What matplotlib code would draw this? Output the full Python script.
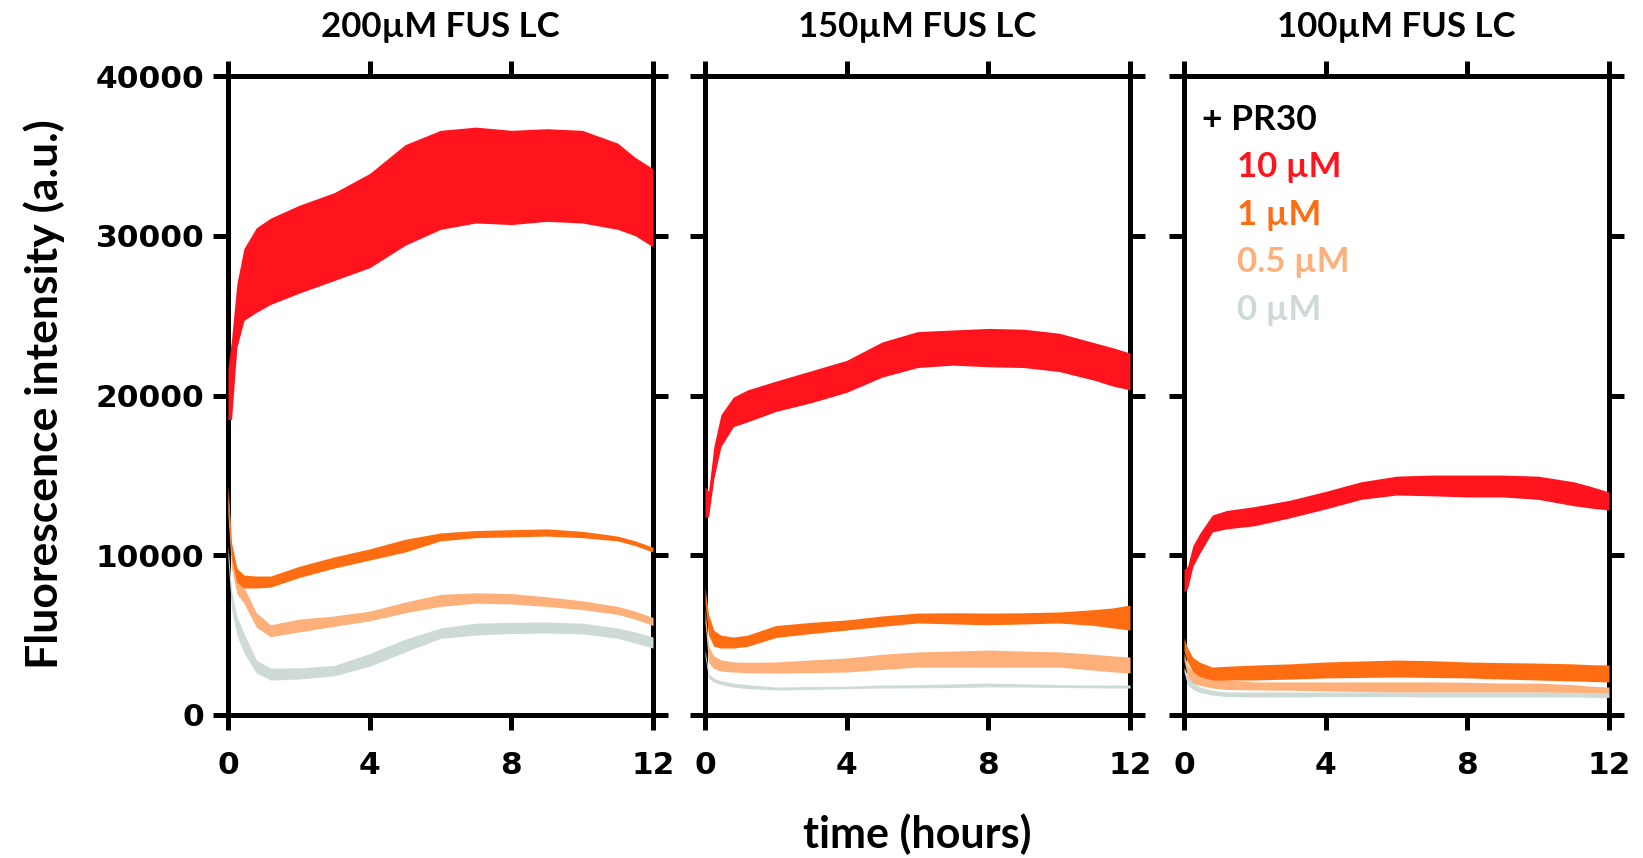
import matplotlib
matplotlib.use("Agg")
import matplotlib.pyplot as plt

# time grid (hours) at which the band edges were read
hours = [0, 0.1, 0.25, 0.45, 0.8, 1.2, 2, 3, 4, 5, 6, 7, 8, 9, 10, 11, 11.5, 12]

titles = ["200\u00b5M FUS LC", "150\u00b5M FUS LC", "100\u00b5M FUS LC"]
pr30_labels = ["10 \u00b5M", "1 \u00b5M", "0.5 \u00b5M", "0 \u00b5M"]
pr30_colors = ["#FF141E", "#FF6D12", "#FDB07A", "#CEDAD6"]

# ---- 200 uM FUS LC: lower / upper edge of each noisy trace ----
fus200_10_lo = [18500, 18500, 23000, 24700, 25200, 25700, 26400, 27200, 28000, 29400, 30400, 30800, 30700, 30900, 30800, 30400, 30000, 29300]
fus200_10_hi = [21700, 23500, 27000, 29200, 30500, 31100, 31900, 32700, 33900, 35700, 36600, 36800, 36600, 36700, 36600, 35800, 34900, 34200]
fus200_1_lo = [13000, 9800, 8300, 7950, 7950, 8000, 8600, 9200, 9700, 10200, 10900, 11100, 11150, 11200, 11100, 10900, 10600, 10200]
fus200_1_hi = [14400, 10800, 9200, 8760, 8700, 8700, 9300, 9900, 10400, 11000, 11400, 11550, 11600, 11650, 11500, 11200, 10900, 10500]
fus200_05_lo = [12500, 9200, 7600, 7000, 5500, 4900, 5200, 5550, 5900, 6400, 6800, 7000, 6950, 6800, 6600, 6300, 6000, 5600]
fus200_05_hi = [13900, 10300, 8500, 8000, 6400, 5650, 6000, 6200, 6500, 7070, 7550, 7650, 7600, 7400, 7150, 6800, 6500, 6100]
fus200_0_lo = [9800, 6600, 5000, 3880, 2630, 2190, 2250, 2450, 3050, 3950, 4800, 5000, 5100, 5130, 5080, 4800, 4500, 4190]
fus200_0_hi = [10600, 7800, 6200, 5130, 3440, 2940, 2950, 3100, 3850, 4750, 5450, 5750, 5800, 5820, 5750, 5450, 5200, 4880]

# ---- 150 uM FUS LC ----
fus150_10_lo = [12400, 12400, 14800, 16800, 18050, 18350, 19000, 19550, 20200, 21150, 21750, 21900, 21800, 21750, 21500, 20950, 20600, 20350]
fus150_10_hi = [14300, 14000, 16800, 18800, 19900, 20350, 20900, 21550, 22200, 23350, 24000, 24100, 24200, 24150, 23900, 23300, 23000, 22660]
fus150_1_lo = [7000, 5000, 4300, 4190, 4190, 4300, 4850, 5100, 5320, 5550, 5760, 5700, 5650, 5700, 5760, 5600, 5450, 5320]
fus150_1_hi = [8000, 6300, 5300, 5000, 4880, 5000, 5600, 5800, 5950, 6200, 6380, 6400, 6380, 6400, 6450, 6600, 6700, 6880]
fus150_05_lo = [5800, 3300, 2900, 2750, 2690, 2650, 2630, 2650, 2690, 2850, 3000, 3000, 3000, 3000, 3000, 2800, 2700, 2630]
fus150_05_hi = [6700, 4300, 3700, 3450, 3320, 3300, 3320, 3450, 3570, 3800, 3950, 4000, 4070, 4000, 3950, 3800, 3700, 3630]
fus150_0_lo = [3700, 2300, 2050, 1900, 1750, 1650, 1570, 1600, 1650, 1690, 1700, 1720, 1760, 1750, 1720, 1700, 1690, 1690]
fus150_0_hi = [4100, 2600, 2300, 2150, 2000, 1900, 1750, 1780, 1800, 1880, 1900, 1950, 2000, 1950, 1900, 1880, 1880, 1880]

# ---- 100 uM FUS LC ----
fus100_10_lo = [7700, 7900, 9300, 10140, 11460, 11650, 11850, 12350, 12900, 13500, 13770, 13720, 13650, 13650, 13500, 13100, 12950, 12830]
fus100_10_hi = [9100, 9300, 10600, 11390, 12520, 12800, 13050, 13450, 14000, 14600, 14950, 15020, 15020, 15020, 14950, 14600, 14300, 13960]
fus100_1_lo = [4000, 3300, 2700, 2400, 2190, 2190, 2190, 2250, 2320, 2350, 2380, 2350, 2320, 2250, 2190, 2130, 2100, 2070]
fus100_1_hi = [4820, 4200, 3600, 3300, 3000, 3050, 3130, 3200, 3320, 3380, 3440, 3400, 3320, 3280, 3250, 3200, 3150, 3130]
fus100_05_lo = [3400, 2400, 2000, 1850, 1690, 1600, 1570, 1550, 1500, 1470, 1440, 1440, 1440, 1440, 1440, 1420, 1400, 1380]
fus100_05_hi = [3880, 3100, 2700, 2500, 2320, 2200, 2070, 2070, 2070, 2070, 2070, 2070, 2050, 2000, 2000, 1900, 1800, 1750]
fus100_0_lo = [2700, 1900, 1600, 1400, 1250, 1150, 1130, 1130, 1150, 1150, 1150, 1130, 1130, 1130, 1130, 1130, 1100, 1100]
fus100_0_hi = [3000, 2450, 2050, 1750, 1550, 1440, 1440, 1440, 1440, 1440, 1440, 1440, 1440, 1440, 1440, 1440, 1400, 1400]

panels = [
    [(fus200_10_lo, fus200_10_hi), (fus200_1_lo, fus200_1_hi), (fus200_05_lo, fus200_05_hi), (fus200_0_lo, fus200_0_hi)],
    [(fus150_10_lo, fus150_10_hi), (fus150_1_lo, fus150_1_hi), (fus150_05_lo, fus150_05_hi), (fus150_0_lo, fus150_0_hi)],
    [(fus100_10_lo, fus100_10_hi), (fus100_1_lo, fus100_1_hi), (fus100_05_lo, fus100_05_hi), (fus100_0_lo, fus100_0_hi)],
]

W, H = 1643, 858
fig = plt.figure(figsize=(W / 100, H / 100), dpi=100)

ax_left = [228, 705, 1184]
ax_w = 425
ax_top, ax_bot = 76, 715

tick_font = dict(family="DejaVu Sans", weight="bold", size=22.5)
text_family = ["Lato", "DejaVu Sans"]

axes = []
for i, series in enumerate(panels):
    ax = fig.add_axes([ax_left[i] / W, 1 - ax_bot / H, ax_w / W, (ax_bot - ax_top) / H])
    # draw 0 uM first so the 10 uM band ends up on top
    for (lo, hi), col in reversed(list(zip(series, pr30_colors))):
        ax.fill_between(hours, lo, hi, color=col, linewidth=0, zorder=3)
    ax.set_xlim(0, 12)
    ax.set_ylim(0, 40000)
    ax.set_xticks([0, 4, 8, 12])
    ax.set_yticks([0, 10000, 20000, 30000, 40000])
    for sp in ax.spines.values():
        sp.set_linewidth(3.6)
    ax.tick_params(direction="out", length=11, width=3.6, top=True, right=True,
                   labeltop=False, labelright=False)
    ax.tick_params(axis="x", pad=15)
    ax.tick_params(axis="y", pad=6)
    ax.set_xticklabels(["0", "4", "8", "12"], fontdict=tick_font)
    if i == 0:
        ax.set_yticklabels(["0", "10000", "20000", "30000", "40000"], fontdict=tick_font)
    else:
        ax.set_yticklabels([])
    fig.text((ax_left[i] + ax_w / 2) / W, 1 - 37 / H, titles[i], ha="center", va="baseline",
             family=text_family, weight="bold", size=25)
    axes.append(ax)

# legend written as coloured text in the last panel
ax3 = axes[2]
ax3.text(0.042, 0.915, "+ PR30", transform=ax3.transAxes, ha="left", va="baseline",
         family=text_family, weight="bold", size=25.5, color="black")
leg_y = [0.842, 0.767, 0.693, 0.618]
for lab, col, yy in zip(pr30_labels, pr30_colors, leg_y):
    ax3.text(0.125, yy, lab, transform=ax3.transAxes, ha="left", va="baseline",
             family=text_family, weight="bold", size=25, color=col)

fig.text(44 / W, 1 - 394 / H, "Fluorescence intensity (a.u.)", rotation=90, ha="center", va="center",
         family=text_family, weight="bold", size=32)
# x label hung under the middle panel
axes[1].set_xlabel("time (hours)", family=text_family, weight="bold", size=31, labelpad=24)

fig.savefig("out.png", dpi=100)
